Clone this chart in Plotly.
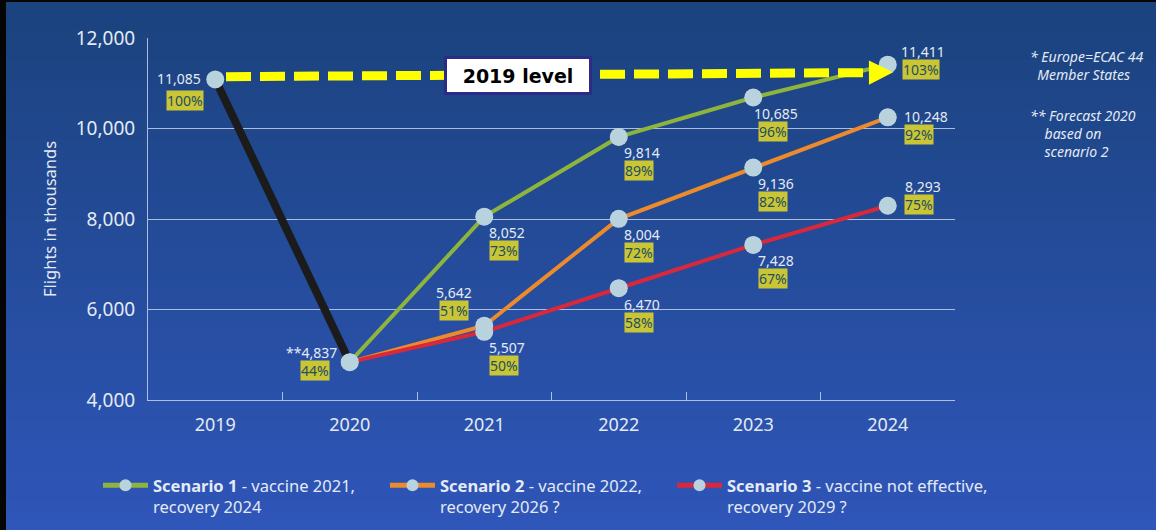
import plotly.graph_objects as go

# data
years = ["2019", "2020", "2021", "2022", "2023", "2024"]
base_years = ["2019", "2020"]
base_flights = [11085, 4837]
base_pct = [100, 44]

scen_years = ["2020", "2021", "2022", "2023", "2024"]
s1_flights = [4837, 8052, 9814, 10685, 11411]
s1_pct = [44, 73, 89, 96, 103]
s2_flights = [4837, 5642, 8004, 9136, 10248]
s2_pct = [44, 51, 72, 82, 92]
s3_flights = [4837, 5507, 6470, 7428, 8293]
s3_pct = [44, 50, 58, 67, 75]

scen_names = [
    "<b>Scenario 1</b> - vaccine 2021,<br>recovery 2024",
    "<b>Scenario 2</b> - vaccine 2022,<br>recovery 2026 ?",
    "<b>Scenario 3</b> - vaccine not effective,<br>recovery 2029 ?",
]
scen_colors = ["#8db43c", "#ec8a2c", "#d8283c"]

W, H = 1156, 530
L, R, T, B = 148, 201, 38, 130
pw, ph = W - L - R, H - T - B

FONT = "Noto Sans"
TXT = "#e4eaf4"
MARK = "#b9d3de"

# label offsets (px, screen down = +) : (value dx, dy), (pct dx, dy)
PLACE = {
    "left": ((-36, -1), (-30, 21)),
    "left2": ((-38, -10), (-35, 8)),
    "rb": ((23, 16), (20, 34)),
    "al": ((-30, -33), (-30, -15)),
    "r": ((35, -13), (33, 5)),
    "r2": ((38, -1), (31, 17)),
    "r3": ((35, -19), (31, -1)),
}
# left edge (px) of each legend entry
LEG_X = [98, 385, 672]

fig = go.Figure()

fig.add_trace(go.Scatter(x=base_years, y=base_flights, mode="lines",
                         line=dict(color="#1b1b1b", width=8), showlegend=False,
                         hoverinfo="skip"))

series = [(s1_flights, s1_pct), (s2_flights, s2_pct), (s3_flights, s3_pct)]
leg_ids = ["legend", "legend2", "legend3"]
for (vals, pct), name, col, lid in zip(series, scen_names, scen_colors, leg_ids):
    fig.add_trace(go.Scatter(x=scen_years, y=vals, mode="lines+markers", name=name,
                             line=dict(color=col, width=4), legend=lid,
                             marker=dict(color=MARK, size=17)))

# markers on top of all lines
all_x = base_years + scen_years[1:] * 3
all_y = base_flights + s1_flights[1:] + s2_flights[1:] + s3_flights[1:]
fig.add_trace(go.Scatter(x=all_x, y=all_y, mode="markers", showlegend=False,
                         marker=dict(color=MARK, size=18), hoverinfo="skip"))

# value + percentage labels
labels = [(base_years, base_flights, base_pct, ["left", "left2"], ["", "**"])]
labels.append((scen_years[1:], s1_flights[1:], s1_pct[1:], ["rb", "rb", "rb", "r"], [""] * 4))
labels.append((scen_years[1:], s2_flights[1:], s2_pct[1:], ["al", "rb", "rb", "r2"], [""] * 4))
labels.append((scen_years[1:], s3_flights[1:], s3_pct[1:], ["rb", "rb", "rb", "r3"], [""] * 4))

for xs, vs, ps, places, pre in labels:
    for x, v, p, pl, pf in zip(xs, vs, ps, places, pre):
        xi = years.index(x)
        (vdx, vdy), (pdx, pdy) = PLACE[pl]
        fig.add_annotation(x=xi, y=v, text=pf + f"{v:,}", showarrow=False,
                           xshift=vdx, yshift=-vdy,
                           font=dict(family=FONT, size=14, color=TXT))
        fig.add_annotation(x=xi, y=v, text=f"{p}%", showarrow=False,
                           xshift=pdx, yshift=-pdy, bgcolor="#c9c534", borderpad=0,
                           font=dict(family=FONT, size=14, color="#1f4e62"))

# gradient background
shapes = []
n = 53
for i in range(n):
    t = i / (n - 1)
    c = (int(27 + 20 * t), int(67 + 19 * t), int(126 + 59 * t))
    y_top = 1 + T / ph - i * (H / n) / ph
    y_bot = y_top - (H / n) / ph - 0.002
    shapes.append(dict(type="rect", xref="paper", yref="paper", layer="below",
                       x0=-L / pw, x1=(W - L) / pw, y0=y_bot, y1=y_top,
                       line=dict(width=0), fillcolor="rgb(%d,%d,%d)" % c))

# frame
shapes.append(dict(type="rect", xref="paper", yref="paper", layer="above",
                   x0=-L / pw, x1=(-L + 6) / pw, y0=-B / ph, y1=1 + T / ph,
                   line=dict(width=0), fillcolor="#050505"))
shapes.append(dict(type="rect", xref="paper", yref="paper", layer="above",
                   x0=-L / pw, x1=(W - L) / pw, y0=1 + (T - 2) / ph, y1=1 + T / ph,
                   line=dict(width=0), fillcolor="#050505"))

# 2019 level arrow
lvl = base_flights[0]
shapes.append(dict(type="line", xref="x", yref="y", layer="above",
                   x0=0.08, y0=lvl + 60, x1=4.86, y1=lvl + 150,
                   line=dict(color="#ffff00", width=9, dash="25px,9px")))
shapes.append(dict(type="path", xref="x", yref="y", layer="above",
                   path="M 4.86,%d L 5.04,%d L 4.86,%d Z" % (lvl + 420, lvl + 160, lvl - 120),
                   fillcolor="#ffff00", line=dict(width=0)))

fig.add_annotation(x=2.25, y=lvl + 90, text="<b>2019 level</b>", showarrow=False,
                   width=140, height=31, bgcolor="white", bordercolor="#2e2b86",
                   borderwidth=3, font=dict(family="DejaVu Sans", size=19, color="black"))

# side notes
fig.add_annotation(xref="paper", yref="paper", x=(1028 - L) / pw, y=1 - (45 - T) / ph,
                   xanchor="left", yanchor="top", align="left", showarrow=False,
                   text="<i>* Europe=ECAC 44<br>  Member States</i>",
                   font=dict(family=FONT, size=14, color=TXT))
fig.add_annotation(xref="paper", yref="paper", x=(1028 - L) / pw, y=1 - (104 - T) / ph,
                   xanchor="left", yanchor="top", align="left", showarrow=False,
                   text="<i>** Forecast 2020<br>    based on<br>    scenario 2</i>",
                   font=dict(family=FONT, size=14, color=TXT))

legends = {}
for lid, lx in zip(leg_ids, LEG_X):
    legends[lid] = dict(orientation="v", x=(lx - L) / pw, y=-(468 - 400) / ph,
                        xanchor="left", yanchor="top", valign="top",
                        itemwidth=45, itemsizing="constant",
                        font=dict(family=FONT, size=16.5, color=TXT),
                        bgcolor="rgba(0,0,0,0)")

fig.update_layout(
    width=W, height=H,
    margin=dict(l=L, r=R, t=T, b=B, autoexpand=False),
    paper_bgcolor="#244c99", plot_bgcolor="rgba(0,0,0,0)",
    shapes=shapes,
    font=dict(family=FONT, color=TXT),
    showlegend=True,
    **legends,
)
fig.update_xaxes(type="category", categoryorder="array", categoryarray=years,
                 range=[-0.5, 5.5], showgrid=False, showline=True,
                 linecolor="rgba(220,228,245,0.75)", linewidth=1,
                 ticks="inside", tickson="boundaries", ticklen=8,
                 tickcolor="rgba(220,228,245,0.75)",
                 tickfont=dict(family=FONT, size=18, color=TXT), ticklabelstandoff=8)
fig.update_yaxes(range=[4000, 12000], dtick=2000, tickformat=",",
                 showgrid=True, gridcolor="rgba(220,228,245,0.75)", gridwidth=1,
                 showline=True, linecolor="rgba(220,228,245,0.75)", linewidth=1,
                 zeroline=False, ticks="", ticklabelstandoff=8,
                 tickfont=dict(family=FONT, size=19, color=TXT),
                 title=dict(text="Flights in thousands", standoff=14,
                            font=dict(family=FONT, size=16.5, color=TXT)))

fig.write_html("out.html", config={"displayModeBar": False},
               post_script="document.body.style.margin='0';")
